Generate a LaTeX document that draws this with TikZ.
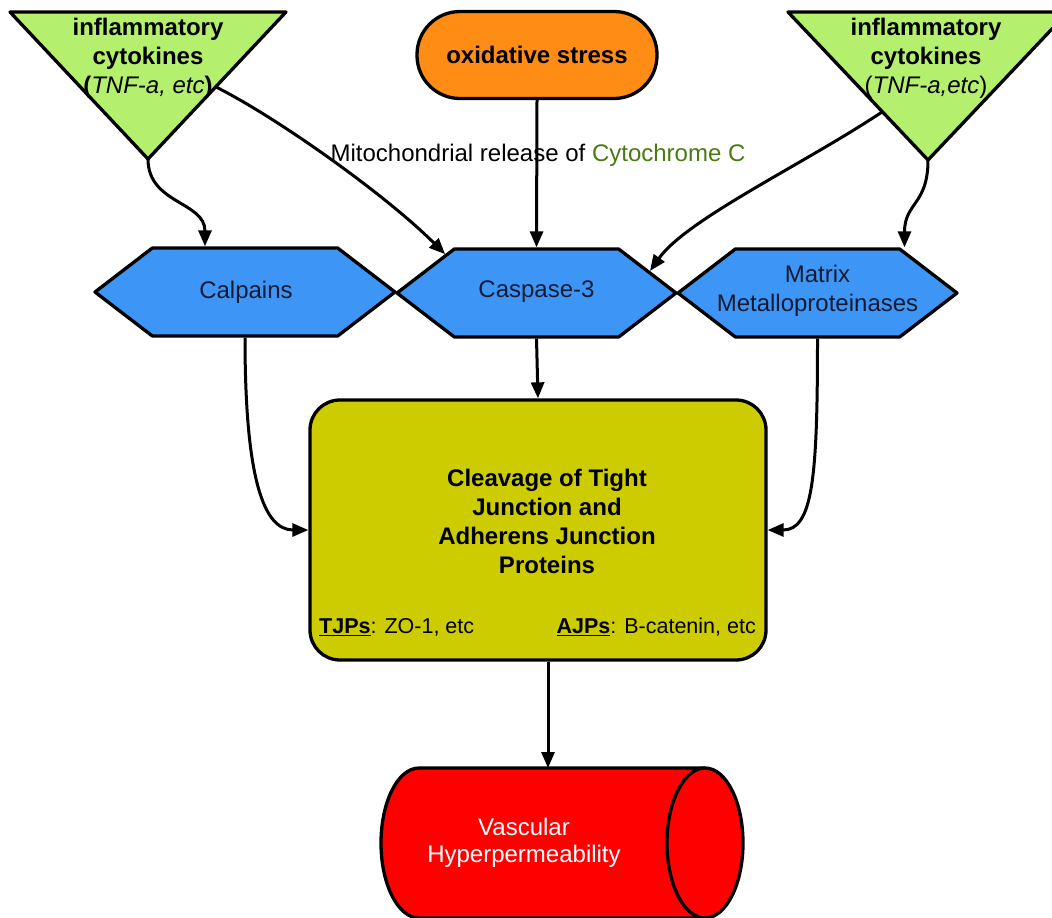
\documentclass[tikz,border=0pt]{standalone}
\usepackage{fontspec}
\setmainfont{Liberation Sans}
\usetikzlibrary{arrows.meta,shapes.symbols}
\definecolor{trigreen}{HTML}{B4F06E}
\definecolor{oxorange}{HTML}{FF8C14}
\definecolor{hexblue}{HTML}{3D96F5}
\definecolor{hextext}{HTML}{141A33}
\definecolor{boxolive}{HTML}{CCCC00}
\definecolor{cylred}{HTML}{FF0000}
\definecolor{cytgreen}{HTML}{4A7A12}
\begin{document}
\begin{tikzpicture}[x=1pt,y=-1pt,
  border/.style={line width=3.3pt, draw=black, line join=round},
  txt/.style={font=\fontsize{24}{29}\selectfont, align=center, inner sep=0pt},
  hexa/.style={border, fill=hexblue, signal, signal to=east and west, signal pointer angle=75,
    inner sep=0pt, minimum height=88pt},
  hextxt/.style={txt, text=hextext},
  conn/.style={line width=3pt, -{Triangle[length=16pt,width=13pt]}},
  ]
\useasboundingbox (0,0) rectangle (1052,918);
% triangles
\coordinate (tLa) at (10,12);
\coordinate (tLb) at (286,12);
\coordinate (tLapex) at (148,159);
\coordinate (tLside) at (216,87);
\draw[border, fill=trigreen] (tLa) -- (tLb) -- (tLapex) -- cycle;
\node[txt] (cytL) at (148,58) {\textbf{inflammatory}\\\textbf{cytokines}\\\textbf{(}\textit{TNF-a, etc}\textbf{)}};
\coordinate (tRa) at (788,12);
\coordinate (tRb) at (1068,12);
\coordinate (tRapex) at (928,160);
\coordinate (tRside) at (882,112);
\draw[border, fill=trigreen] (tRa) -- (tRb) -- (tRapex) -- cycle;
\node[txt] (cytR) at (926,58) {\textbf{inflammatory}\\\textbf{cytokines}\\(\textit{TNF-a,etc})};
% oxidative stress
\node[border, fill=oxorange, rounded corners=43pt, minimum width=240pt, minimum height=87pt,
  inner sep=0pt, font=\bfseries\fontsize{24}{29}\selectfont] (ox) at (537,55) {oxidative stress};
% label
\node[txt] (mito) at (538,155) {Mitochondrial release of \textcolor{cytgreen}{Cytochrome C}};
% hexagons
\node[hexa, minimum width=300pt] (calp) at (245,292) {};
\node[hextxt] (calptxt) at (246,292) {Calpains};
\node[hexa, minimum width=279pt] (casp) at (536.5,293) {};
\node[hextxt] (casptxt) at (536.5,292) {Caspase-3};
\node[hexa, minimum width=279pt] (matr) at (817.5,293) {};
\node[hextxt] (matrtxt) at (817.5,291) {Matrix\\Metalloproteinases};
% big box
\node[border, fill=boxolive, rounded corners=30pt, minimum width=456pt, minimum height=260pt,
  inner sep=0pt] (box) at (538,530) {};
\node[txt, font=\bfseries\fontsize{24}{29}\selectfont] (boxtitle) at (547,521)
  {Cleavage of Tight\\Junction and\\Adherens Junction\\Proteins};
\node[anchor=west, inner sep=0pt, font=\fontsize{21.5}{26}\selectfont] (tjp) at (319,627)
  {\underline{\textbf{TJPs}}: ZO-1, etc};
\node[anchor=east, inner sep=0pt, font=\fontsize{21.5}{26}\selectfont] (ajp) at (756,627)
  {\underline{\textbf{AJPs}}: B-catenin, etc};
% cylinder
\fill[cylred] (419,768) -- (705,768) -- (705,918) -- (419,918)
  .. controls (398,918) and (381,884.4) .. (381,843)
  .. controls (381,801.6) and (398,768) .. (419,768) -- cycle;
\draw[line width=3.3pt, line join=round] (705,768) -- (419,768)
  .. controls (398,768) and (381,801.6) .. (381,843)
  .. controls (381,884.4) and (398,918) .. (419,918) -- (705,918);
\draw[line width=3.3pt, fill=cylred] (705,843) ellipse (38 and 75);
\coordinate (cyltop) at (548,768);
\node[txt, font=\fontsize{24}{27}\selectfont, text=white] (vasc) at (524,843) {Vascular\\Hyperpermeability};
% connectors
\draw[conn] (tLapex) .. controls +(0,45) and +(0,-45) .. ([xshift=-40pt]calp.north);
\draw[conn] (tLside) .. controls +(60,30) and +(-60,-60) .. (casp.157);
\draw[conn] (ox.south) -- (casp.north);
\draw[conn] (tRside) .. controls +(-78,52) and +(37,-52) .. (casp.11);
\draw[conn] (tRapex) .. controls +(0,45) and +(0,-45) .. ([xshift=87pt]matr.north);
\draw[conn] (calp.south) .. controls +(0,140) and +(-45,0) .. (box.west);
\draw[conn] (matr.south) .. controls +(0,140) and +(45,0) .. (box.east);
\draw[conn] (casp.south) -- (box.north);
\draw[conn] ([xshift=10pt]box.south) -- (cyltop);
\end{tikzpicture}
\end{document}
